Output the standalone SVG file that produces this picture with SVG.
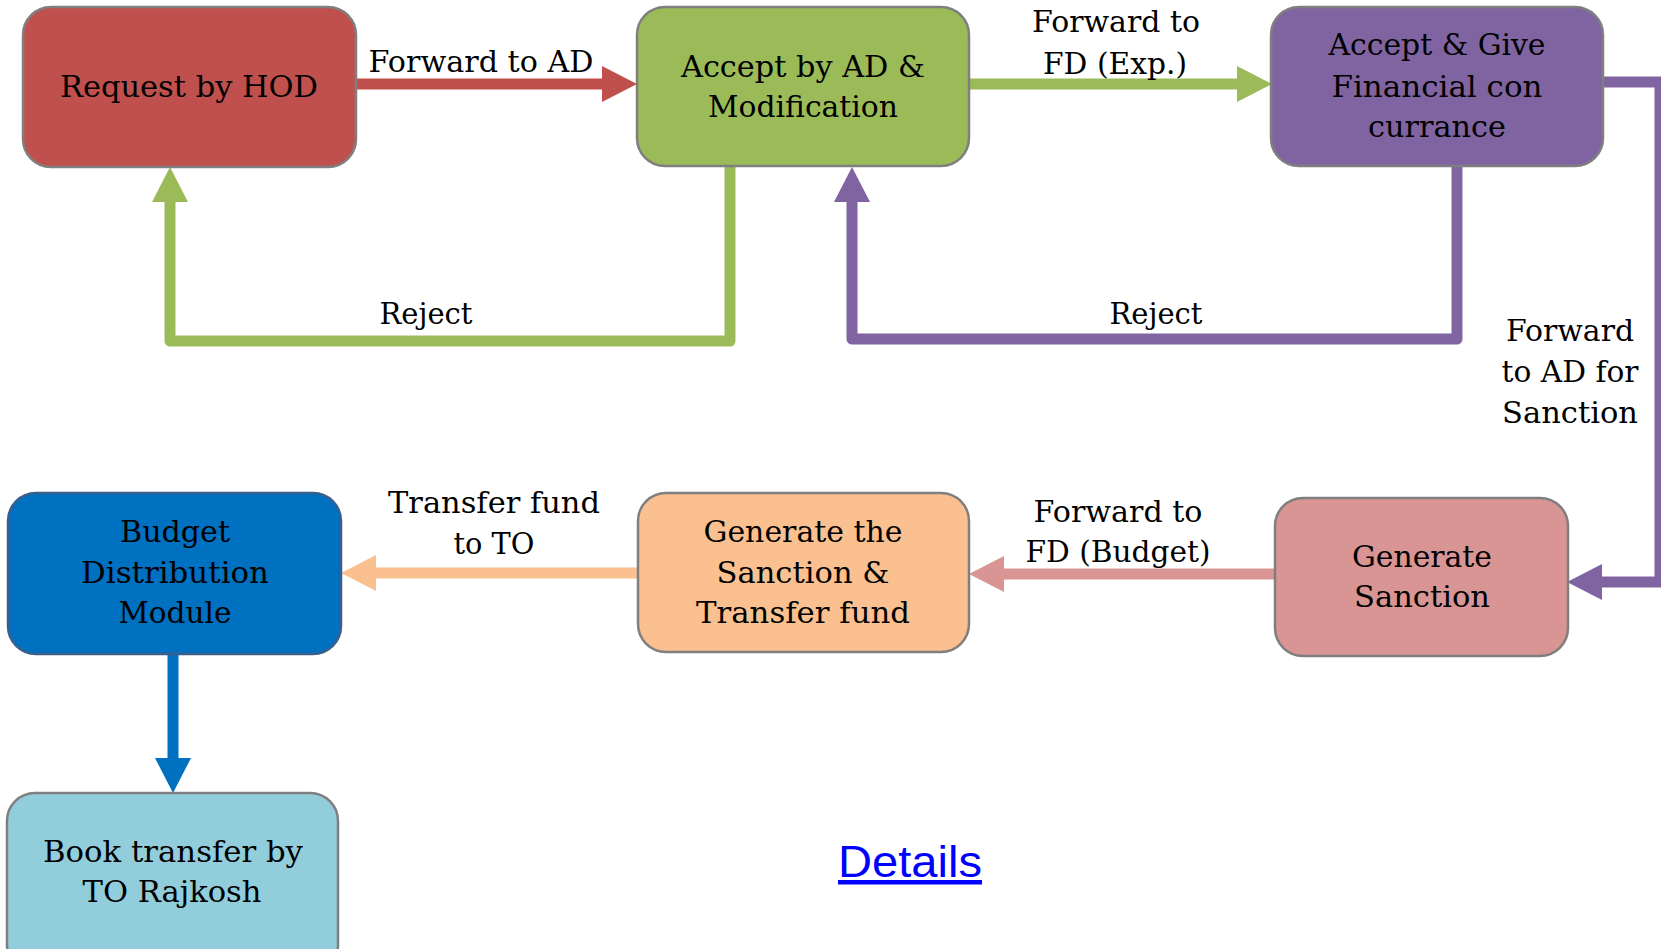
<svg xmlns="http://www.w3.org/2000/svg" width="1661" height="949" viewBox="0 0 1661 949">
<style>
.box{stroke:#7f7f7f;stroke-width:2.5}
.t{font-family:"DejaVu Serif","Liberation Serif",serif;font-size:30px;fill:#000;text-anchor:middle}
.c{fill:none;stroke-width:11;stroke-linejoin:round}
.link{font-family:"Liberation Sans",Arial,sans-serif;font-size:45px;fill:#0000ff;text-decoration:underline}
</style>
<defs>
<marker id="hR" markerUnits="userSpaceOnUse" markerWidth="36" markerHeight="36" refX="0" refY="18" orient="auto"><path d="M0,0 L35,18 L0,36 z" fill="#c0504d"/></marker>
<marker id="hG" markerUnits="userSpaceOnUse" markerWidth="36" markerHeight="36" refX="0" refY="18" orient="auto"><path d="M0,0 L35,18 L0,36 z" fill="#9bbb59"/></marker>
<marker id="hP" markerUnits="userSpaceOnUse" markerWidth="36" markerHeight="36" refX="0" refY="18" orient="auto"><path d="M0,0 L35,18 L0,36 z" fill="#8064a2"/></marker>
<marker id="hK" markerUnits="userSpaceOnUse" markerWidth="36" markerHeight="36" refX="0" refY="18" orient="auto"><path d="M0,0 L35,18 L0,36 z" fill="#d99594"/></marker>
<marker id="hO" markerUnits="userSpaceOnUse" markerWidth="36" markerHeight="36" refX="0" refY="18" orient="auto"><path d="M0,0 L35,18 L0,36 z" fill="#fac08f"/></marker>
<marker id="hB" markerUnits="userSpaceOnUse" markerWidth="36" markerHeight="36" refX="0" refY="18" orient="auto"><path d="M0,0 L35,18 L0,36 z" fill="#0070c0"/></marker>
</defs>
<rect width="1661" height="949" fill="#ffffff"/>
<g id="connectors">
<path class="c" d="M356,84 H602" stroke="#c0504d" marker-end="url(#hR)"/>
<path class="c" d="M969,84 H1237" stroke="#9bbb59" marker-end="url(#hG)"/>
<path class="c" d="M730,166 V341 H170 V202" stroke="#9bbb59" marker-end="url(#hG)"/>
<path class="c" d="M1457,166 V339 H852 V202" stroke="#8064a2" marker-end="url(#hP)"/>
<path class="c" d="M1603,82 H1660 V582 H1602" stroke="#8064a2" marker-end="url(#hP)"/>
<path class="c" d="M1275,574 H1004" stroke="#d99594" marker-end="url(#hK)"/>
<path class="c" d="M638,573 H376" stroke="#fac08f" marker-end="url(#hO)"/>
<path class="c" d="M173,654 V758" stroke="#0070c0" marker-end="url(#hB)"/>
<text class="t" x="481" y="72" textLength="225" lengthAdjust="spacingAndGlyphs">Forward to AD</text>
<text class="t" x="1116" y="32" textLength="168" lengthAdjust="spacingAndGlyphs">Forward to</text>
<text class="t" x="1115" y="74" textLength="144" lengthAdjust="spacingAndGlyphs">FD (Exp.)</text>
<text class="t" x="426" y="324" textLength="93" lengthAdjust="spacingAndGlyphs">Reject</text>
<text class="t" x="1156" y="324" textLength="93" lengthAdjust="spacingAndGlyphs">Reject</text>
<text class="t" x="1570" y="341" textLength="128" lengthAdjust="spacingAndGlyphs">Forward</text>
<text class="t" x="1570" y="382" textLength="137" lengthAdjust="spacingAndGlyphs">to AD for</text>
<text class="t" x="1570" y="423" textLength="136" lengthAdjust="spacingAndGlyphs">Sanction</text>
<text class="t" x="1118" y="522" textLength="169" lengthAdjust="spacingAndGlyphs">Forward to</text>
<text class="t" x="1118" y="562" textLength="185" lengthAdjust="spacingAndGlyphs">FD (Budget)</text>
<text class="t" x="494" y="513" textLength="212" lengthAdjust="spacingAndGlyphs">Transfer fund</text>
<text class="t" x="494" y="554" textLength="81" lengthAdjust="spacingAndGlyphs">to TO</text>
</g>
<g id="n1">
<rect class="box" x="23" y="7" width="333" height="160" rx="28" fill="#c0504d"/>
<text class="t" x="189" y="97" textLength="258" lengthAdjust="spacingAndGlyphs">Request by HOD</text>
</g>
<g id="n2">
<rect class="box" x="637" y="7" width="332" height="159" rx="28" fill="#9bbb59"/>
<text class="t" x="803" y="77" textLength="244" lengthAdjust="spacingAndGlyphs">Accept by AD &amp;</text>
<text class="t" x="803" y="117" textLength="190" lengthAdjust="spacingAndGlyphs">Modification</text>
</g>
<g id="n3">
<rect class="box" x="1271" y="7" width="332" height="159" rx="28" fill="#8064a2"/>
<text class="t" x="1437" y="55" textLength="217" lengthAdjust="spacingAndGlyphs">Accept &amp; Give</text>
<text class="t" x="1437" y="97" textLength="211" lengthAdjust="spacingAndGlyphs">Financial con</text>
<text class="t" x="1437" y="137" textLength="138" lengthAdjust="spacingAndGlyphs">currance</text>
</g>
<g id="n4">
<rect class="box" x="1275" y="498" width="293" height="158" rx="28" fill="#d99594"/>
<text class="t" x="1422" y="567" textLength="140" lengthAdjust="spacingAndGlyphs">Generate</text>
<text class="t" x="1422" y="607" textLength="136" lengthAdjust="spacingAndGlyphs">Sanction</text>
</g>
<g id="n5">
<rect class="box" x="638" y="493" width="331" height="159" rx="28" fill="#fac08f"/>
<text class="t" x="803" y="542" textLength="199" lengthAdjust="spacingAndGlyphs">Generate the</text>
<text class="t" x="803" y="583" textLength="173" lengthAdjust="spacingAndGlyphs">Sanction &amp;</text>
<text class="t" x="803" y="623" textLength="214" lengthAdjust="spacingAndGlyphs">Transfer fund</text>
</g>
<g id="n6">
<rect x="8" y="493" width="333" height="161" rx="28" fill="#0070c0" stroke="#3b5f8c" stroke-width="2.5"/>
<text class="t" x="175" y="542" textLength="110" lengthAdjust="spacingAndGlyphs">Budget</text>
<text class="t" x="175" y="583" textLength="188" lengthAdjust="spacingAndGlyphs">Distribution</text>
<text class="t" x="175" y="623" textLength="113" lengthAdjust="spacingAndGlyphs">Module</text>
</g>
<g id="n7">
<rect class="box" x="7" y="793" width="331" height="180" rx="28" fill="#92cddc"/>
<text class="t" x="173" y="862" textLength="260" lengthAdjust="spacingAndGlyphs">Book transfer by</text>
<text class="t" x="172" y="902" textLength="179" lengthAdjust="spacingAndGlyphs">TO Rajkosh</text>
</g>
<g id="link">
<text class="link" x="838" y="877" textLength="144" lengthAdjust="spacingAndGlyphs">Details</text>
</g>
</svg>
